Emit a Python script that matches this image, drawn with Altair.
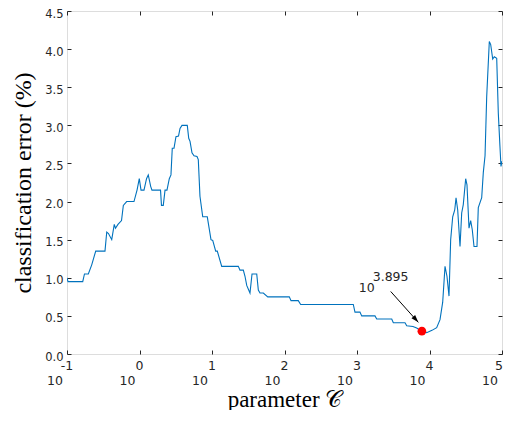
import altair as alt
import pandas as pd

# log10 of parameter C, and classification error (%)
log_c = [-1.000, -0.986, -0.783, -0.759, -0.706, -0.659, -0.604, -0.476, -0.452, -0.428,
         -0.383, -0.348, -0.331, -0.297, -0.248, -0.223, -0.177, -0.076, -0.034, -0.003,
         0.021, 0.062, 0.097, 0.121, 0.154, 0.172, 0.290, 0.303, 0.328, 0.352,
         0.379, 0.411, 0.434, 0.452, 0.476, 0.503, 0.538, 0.559, 0.586, 0.659,
         0.679, 0.697, 0.724, 0.752, 0.793, 0.811, 0.834, 0.872, 0.935, 0.986,
         1.010, 1.051, 1.073, 1.134, 1.363, 1.386, 1.432, 1.455, 1.479, 1.524,
         1.552, 1.617, 1.639, 1.662, 1.708, 1.769, 2.066, 2.090, 2.190, 2.223,
         2.949, 2.972, 3.041, 3.065, 3.248, 3.272, 3.479, 3.501, 3.662, 3.686,
         3.772, 3.823, 3.895, 3.961, 4.034, 4.099, 4.145, 4.182, 4.214, 4.241,
         4.269, 4.292, 4.320, 4.348, 4.366, 4.389, 4.421, 4.444, 4.466, 4.499,
         4.517, 4.545, 4.568, 4.590, 4.614, 4.655, 4.673, 4.720, 4.742, 4.766,
         4.789, 4.825, 4.844, 4.872, 4.894, 4.927, 4.949, 4.972, 4.986, 5.000]
error = [1.00, 0.95, 0.95, 1.05, 1.05, 1.17, 1.35, 1.35, 1.60, 1.58,
         1.50, 1.70, 1.65, 1.70, 1.75, 1.95, 2.00, 2.00, 2.15, 2.30,
         2.15, 2.15, 2.30, 2.35, 2.20, 2.15, 2.15, 1.95, 1.95, 2.15,
         2.15, 2.30, 2.35, 2.70, 2.70, 2.85, 2.86, 2.96, 3.00, 3.00,
         2.83, 2.79, 2.64, 2.60, 2.59, 2.55, 2.07, 1.80, 1.80, 1.50,
         1.49, 1.35, 1.35, 1.15, 1.15, 1.10, 1.10, 1.02, 0.90, 0.80,
         1.05, 1.05, 0.84, 0.80, 0.80, 0.75, 0.75, 0.70, 0.70, 0.65,
         0.65, 0.55, 0.55, 0.50, 0.50, 0.46, 0.46, 0.41, 0.41, 0.37,
         0.36, 0.34, 0.30, 0.28, 0.31, 0.345, 0.45, 0.68, 1.15, 1.02,
         0.76, 1.50, 1.80, 1.89, 2.05, 1.89, 1.41, 1.85, 1.96, 2.30,
         2.22, 1.65, 1.75, 1.63, 1.41, 1.41, 1.92, 2.05, 2.38, 2.60,
         3.38, 4.10, 4.06, 3.87, 3.90, 3.88, 3.16, 2.72, 2.46, 2.53]

best_log_c = 3.895
best_error = 0.30
best_label = "3.895"

tick_exps = [-1, 0, 1, 2, 3, 4, 5]
y_ticks = [0.0, 0.5, 1.0, 1.5, 2.0, 2.5, 3.0, 3.5, 4.0, 4.5]

arrow_from = (3.465, 0.82)
arrow_to = (3.846, 0.415)

W, H = 435, 343
INK = "#262626"
BLUE = "#0072BD"

df = pd.DataFrame({"C": [10 ** e for e in log_c], "err": error})
best = pd.DataFrame({"C": [10 ** best_log_c], "err": [best_error]})
ticks_df = pd.DataFrame({"C": [10.0 ** e for e in tick_exps], "lab": [str(e) for e in tick_exps],
                         "base": ["10"] * len(tick_exps)})
inner_ticks = ticks_df.iloc[:-1]
last_tick = ticks_df.iloc[[-1]]
arrow_df = pd.DataFrame({"C": [10 ** arrow_from[0], 10 ** arrow_to[0]],
                         "err": [arrow_from[1], arrow_to[1]]})
head_df = arrow_df.iloc[[1]]
start_df = arrow_df.iloc[[0]]

xs = alt.Scale(type="log", domain=[0.1, 1e5], nice=False)
ys = alt.Scale(domain=[0, 4.5], nice=False, zero=False)

x_bottom = alt.Axis(values=[10.0 ** e for e in tick_exps], labels=False, tickSize=4, offset=-4,
                    domain=False, grid=False, tickColor=INK,
                    title="parameter 𝒞", titleFont="Liberation Serif", titleFontSize=23,
                    titleFontWeight="normal", titleColor="#000000", titleX=W / 2, titleY=56,
                    titleBaseline="alphabetic", titleAlign="center")
y_left = alt.Axis(values=y_ticks, format=".1f", tickSize=4, offset=-4, labelPadding=4,
                  labelOffset=3, domain=False, grid=False, labelFont="DejaVu Sans",
                  labelFontSize=11.5, labelColor=INK, tickColor=INK,
                  title="classification error (%)", titleFont="Liberation Serif", titleFontSize=24,
                  titleFontWeight="normal", titleColor="#000000", titleX=-41, titleY=H / 2,
                  titleBaseline="alphabetic", titleAlign="center", titleAngle=-90)
x_top = alt.Axis(orient="top", values=[10.0 ** e for e in tick_exps], labels=False, tickSize=4,
                 offset=-4, domain=False, grid=False, tickColor=INK, title=None)
y_right = alt.Axis(orient="right", values=y_ticks, labels=False, tickSize=4, offset=-4,
                   domain=False, grid=False, tickColor=INK, title=None)

line = alt.Chart(df).mark_line(color=BLUE, strokeWidth=1.1, clip=True).encode(
    x=alt.X("C:Q", scale=xs, axis=x_bottom),
    y=alt.Y("err:Q", scale=ys, axis=y_left),
)

dot = alt.Chart(best).mark_point(filled=True, color="#FF0000", size=75, opacity=1).encode(
    x=alt.X("C:Q", scale=xs, axis=x_top),
    y=alt.Y("err:Q", scale=ys, axis=y_right),
)

exp_text = alt.Chart(inner_ticks).mark_text(font="DejaVu Sans", fontSize=12.5, color=INK,
                                            align="center", baseline="top").encode(
    x=alt.X("C:Q", scale=xs, axis=None),
    y=alt.value(H + 6),
    text="lab:N",
)
exp_last = alt.Chart(last_tick).mark_text(font="DejaVu Sans", fontSize=12.5, color=INK,
                                          align="right", baseline="top", dx=1).encode(
    x=alt.X("C:Q", scale=xs, axis=None),
    y=alt.value(H + 6),
    text="lab:N",
)
base_text = alt.Chart(ticks_df).mark_text(font="DejaVu Sans", fontSize=12.5, color=INK,
                                          align="right", baseline="top", dx=-4).encode(
    x=alt.X("C:Q", scale=xs, axis=None),
    y=alt.value(H + 21),
    text="base:N",
)

arrow = alt.Chart(arrow_df).mark_line(color="#000000", strokeWidth=1).encode(
    x=alt.X("C:Q", scale=xs, axis=None),
    y=alt.Y("err:Q", scale=ys, axis=None),
)
head = alt.Chart(head_df).mark_point(shape="M0,0 L0.32,1 L-0.32,1 Z", filled=True, color="#000000",
                                     opacity=1, size=230, angle=138.3).encode(
    x=alt.X("C:Q", scale=xs, axis=None),
    y=alt.Y("err:Q", scale=ys, axis=None),
)
ann_base = alt.Chart(start_df).mark_text(text="10", font="DejaVu Sans", fontSize=12.5, color=INK,
                                         align="right", baseline="alphabetic", dx=-16, dy=1).encode(
    x=alt.X("C:Q", scale=xs, axis=None),
    y=alt.Y("err:Q", scale=ys, axis=None),
)
ann_exp = alt.Chart(start_df).mark_text(text=best_label, font="DejaVu Sans", fontSize=12.5, color=INK,
                                        align="left", baseline="alphabetic", dx=-18, dy=-10).encode(
    x=alt.X("C:Q", scale=xs, axis=None),
    y=alt.Y("err:Q", scale=ys, axis=None),
)

chart = alt.layer(line, dot, exp_text, exp_last, base_text, arrow, head, ann_base,
                  ann_exp).resolve_axis(
    x="independent", y="independent"
).properties(
    width=W, height=H,
    autosize=alt.AutoSizeParams(type="none"),
    padding={"left": 59, "top": 3, "right": 1, "bottom": 56},
).configure_view(stroke=INK, strokeWidth=1).configure(background="#ffffff")

chart.save("out.html", embed_options={"renderer": "svg", "actions": False})
